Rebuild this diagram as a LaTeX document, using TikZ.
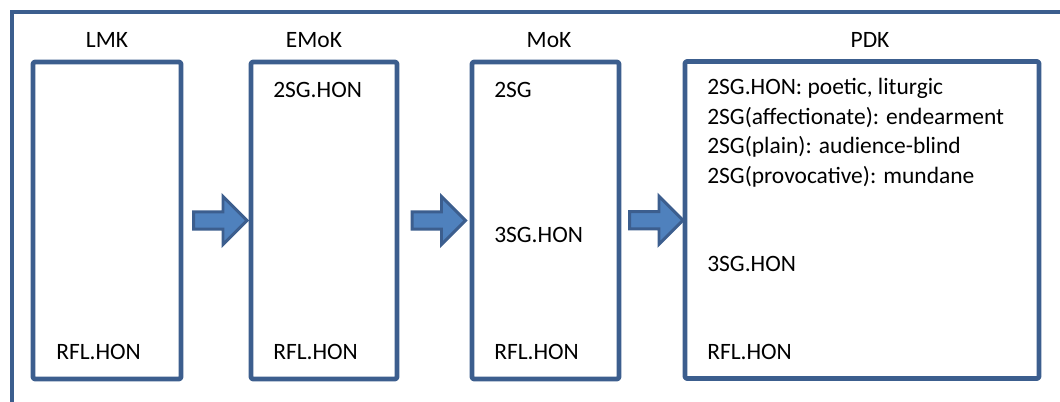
\documentclass[tikz,border=0pt]{standalone}
\usepackage{fontspec}
\setmainfont{Carlito}
\usepackage{tikz}
\usepackage{xcolor}
\usetikzlibrary{shapes.arrows,calc}

\definecolor{kline}{RGB}{60,94,142}
\definecolor{kfill}{RGB}{79,129,189}

\tikzset{
  kbox/.style={draw=kline, line width=3.4pt, line join=round, rounded corners=1pt, inner sep=0pt, minimum height=237.75pt},
  kframe/.style={draw=kline, line width=3.4pt},
  karrow/.style={single arrow, draw=kline, fill=kfill, line width=2.2pt, inner xsep=0pt, inner ysep=5.4pt,
    minimum height=40pt, single arrow head extend=11.5pt, single arrow tip angle=90},
  ktext/.style={anchor=base west, inner sep=0pt, font=\fontsize{17.6}{21}\selectfont},
  klabel/.style={anchor=base, inner sep=0pt, font=\fontsize{17.6}{21}\selectfont}
}

\begin{document}
\begin{tikzpicture}[x=0.75pt,y=0.75pt,yscale=-1,xscale=1]
\useasboundingbox (0,0) rectangle (1060,402);
\clip (0,0) rectangle (1060,402);

%Shape: outer frame
\draw[kframe] (12,420) -- (12,12) -- (1080,12);

%Shape: Rectangles
\node[kbox, minimum width=111pt] (lmk) at (107,220.5) {};
\node[kbox, minimum width=109.5pt] (emok) at (324,220.5) {};
\node[kbox, minimum width=110.25pt] (mok) at (545.5,220.5) {};
\node[kbox, minimum width=265.5pt] (pdk) at (862,220) {};

%Shape: Right Arrows
\node[karrow] (ar1) at ($(lmk.east)!0.5!(emok.west)$) {};
\node[karrow] (ar2) at ($(emok.east)!0.5!(mok.west)$) {};
\node[karrow] (ar3) at ($(mok.east)!0.5!(pdk.west)$) {};

% Text Node
\node[klabel] (lmklab) at (107,48) {LMK};
\node[klabel] (emoklab) at (314,48) {EMoK};
\node[klabel] (moklab) at (549,48) {MoK};
\node[klabel] (pdklab) at (870,48) {PDK};

% Text Node
\node[ktext] (lmkrfl) at (56,360) {RFL.HON};

% Text Node
\node[ktext] (emoksg) at (273,97.5) {2SG.HON};
\node[ktext] (emokrfl) at (273,360) {RFL.HON};

% Text Node
\node[ktext] (moksg) at (494,97.5) {2SG};
\node[ktext] (mokthird) at (494,243) {3SG.HON};
\node[ktext] (mokrfl) at (494,360) {RFL.HON};

% Text Node
\node[ktext] (pdka) at (707,95) {2SG.HON: poetic, liturgic};
\node[ktext] (pdkb) at (707,124.5) {2SG(affectionate): endearment};
\node[ktext] (pdkc) at (707,154) {2SG(plain): audience-blind};
\node[ktext] (pdkd) at (707,183.5) {2SG(provocative): mundane};
\node[ktext] (pdkthird) at (707,272) {3SG.HON};
\node[ktext] (pdkrfl) at (707,359.5) {RFL.HON};

\end{tikzpicture}
\end{document}
